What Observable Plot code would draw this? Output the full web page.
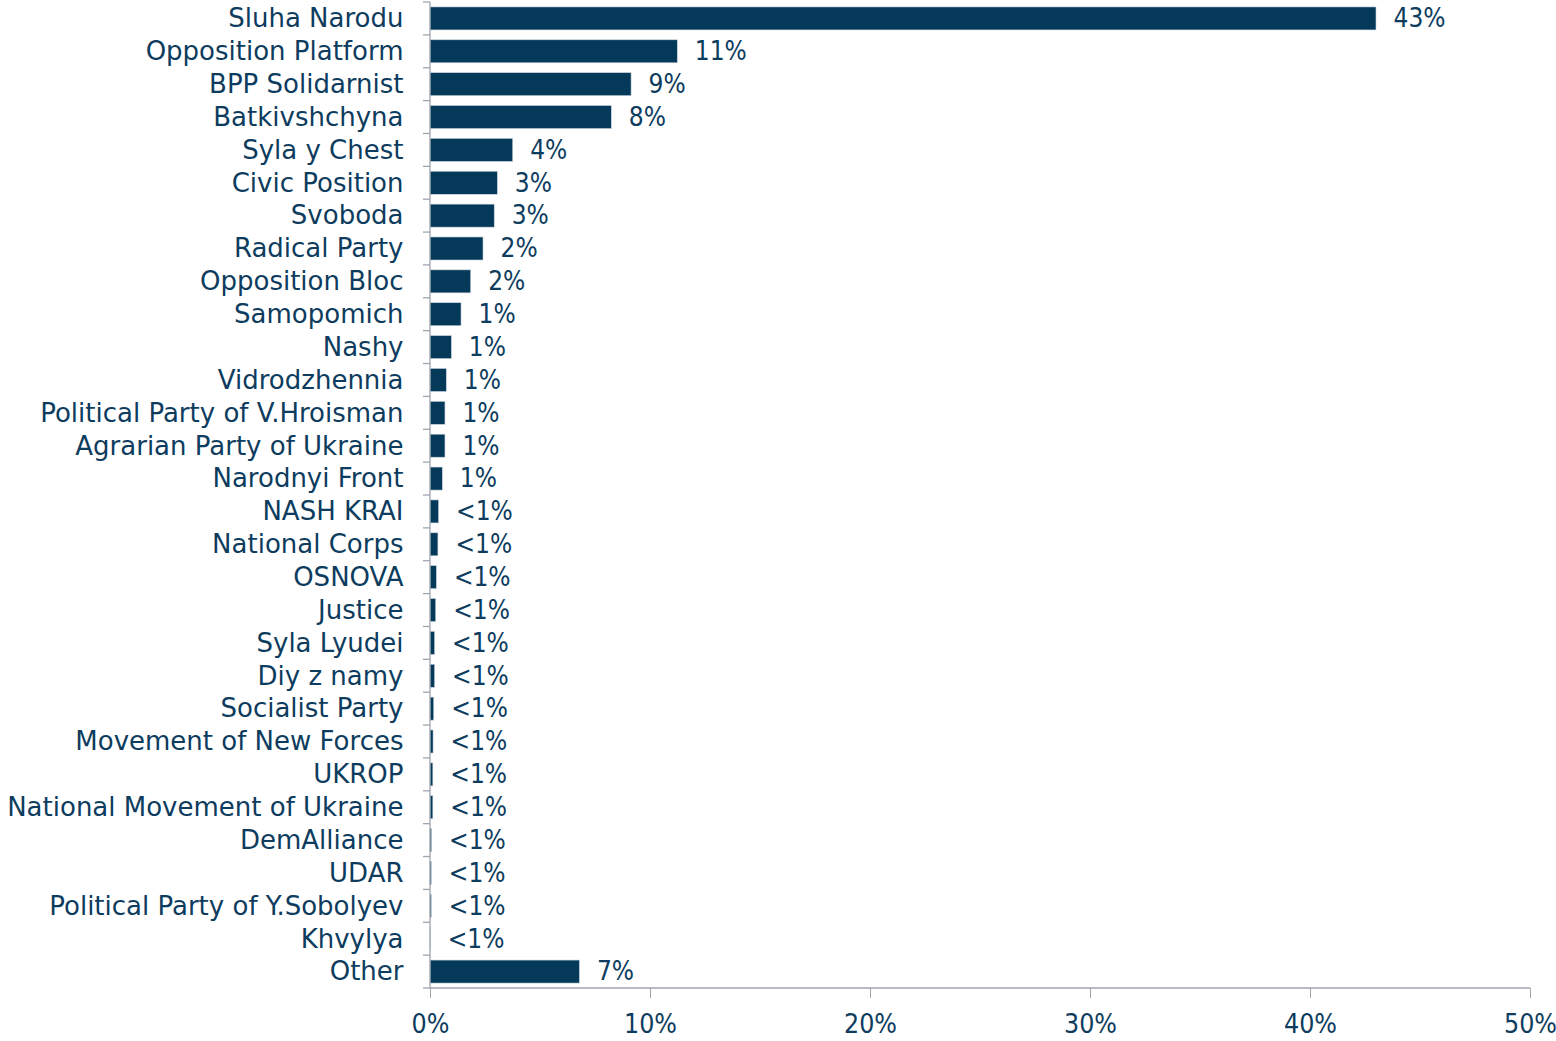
<!DOCTYPE html>
<html><head><meta charset="utf-8">
<script src="https://cdn.jsdelivr.net/npm/d3@7"></script>
<script src="https://cdn.jsdelivr.net/npm/@observablehq/plot@0.6"></script>
<style>body{margin:0;background:#fff}</style>
</head><body><div id="chart"></div>
<script>
const parties = ["Sluha Narodu","Opposition Platform","BPP Solidarnist","Batkivshchyna","Syla y Chest","Civic Position","Svoboda","Radical Party","Opposition Bloc","Samopomich","Nashy","Vidrodzhennia","Political Party of V.Hroisman","Agrarian Party of Ukraine","Narodnyi Front","NASH KRAI","National Corps","OSNOVA","Justice","Syla Lyudei","Diy z namy","Socialist Party","Movement of New Forces","UKROP","National Movement of Ukraine","DemAlliance","UDAR","Political Party of Y.Sobolyev","Khvylya","Other"];
const shares = [43.0,11.24,9.14,8.24,3.76,3.06,2.92,2.41,1.85,1.41,0.97,0.74,0.68,0.68,0.56,0.39,0.36,0.29,0.26,0.21,0.21,0.17,0.14,0.13,0.13,0.07,0.06,0.06,0.01,6.79];
const valueLabels = ["43%","11%","9%","8%","4%","3%","3%","2%","2%","1%","1%","1%","1%","1%","1%","<1%","<1%","<1%","<1%","<1%","<1%","<1%","<1%","<1%","<1%","<1%","<1%","<1%","<1%","7%"];
const xTicks = [0,10,20,30,40,50];

const data = parties.map((p,i)=>({party:p, share:shares[i], label:valueLabels[i]}));
const ink = "#0d3c5e", barFill = "#04395a", axisGray = "#9fa4ad";
const cond = "'DejaVu Sans Condensed', 'DejaVu Sans', sans-serif";

function axisLines(index, scales) {
  const {x, y} = scales;
  const step = y(parties[1]) - y(parties[0]);
  const gap = step * 0.15;
  const top = y(parties[0]) - gap;
  const bottom = y(parties[parties.length-1]) + step - gap;
  const x0 = x(xTicks[0]), x1 = x(xTicks[xTicks.length-1]);
  const g = d3.create("svg:g").attr("stroke", axisGray).attr("stroke-width", 1.3).attr("fill","none");
  g.append("line").attr("x1", x0).attr("x2", x0).attr("y1", top).attr("y2", bottom);
  g.append("line").attr("x1", x0).attr("x2", x1).attr("y1", bottom).attr("y2", bottom);
  parties.forEach(p => {
    const yy = y(p) - gap;
    g.append("line").attr("x1", x0 - 7).attr("x2", x0).attr("y1", yy).attr("y2", yy);
  });
  g.append("line").attr("x1", x0 - 7).attr("x2", x0).attr("y1", bottom).attr("y2", bottom);
  return g.node();
}

const chart = Plot.plot({
  width: 1556, height: 1041,
  marginLeft: 430, marginRight: 26, marginTop: 2, marginBottom: 53,
  style: {fontFamily: "'DejaVu Sans', sans-serif", color: ink, background: "#fff"},
  x: {domain: [0, 50]},
  y: {domain: parties, paddingInner: 0.3, paddingOuter: 0.15, round: false},
  marks: [
    Plot.barX(data, {x: "share", y: "party", fill: barFill, stroke: "#c9d3dc", strokeWidth: 0.6}),
    Plot.text(data, {x: "share", y: "party", text: "label", dx: 17, textAnchor: "start", fontSize: 26, fontFamily: cond, fill: ink}),
    Plot.axisY({tickSize: 0, tickPadding: 27, fontSize: 26, label: null, fill: ink}),
    Plot.axisX({ticks: xTicks, tickSize: 10, tickPadding: 16, tickFormat: d => d + "%", fontSize: 26.5, fontFamily: cond, label: null, stroke: axisGray, fill: ink}),
    axisLines
  ]
});
document.getElementById("chart").appendChild(chart);
</script>
</body></html>
